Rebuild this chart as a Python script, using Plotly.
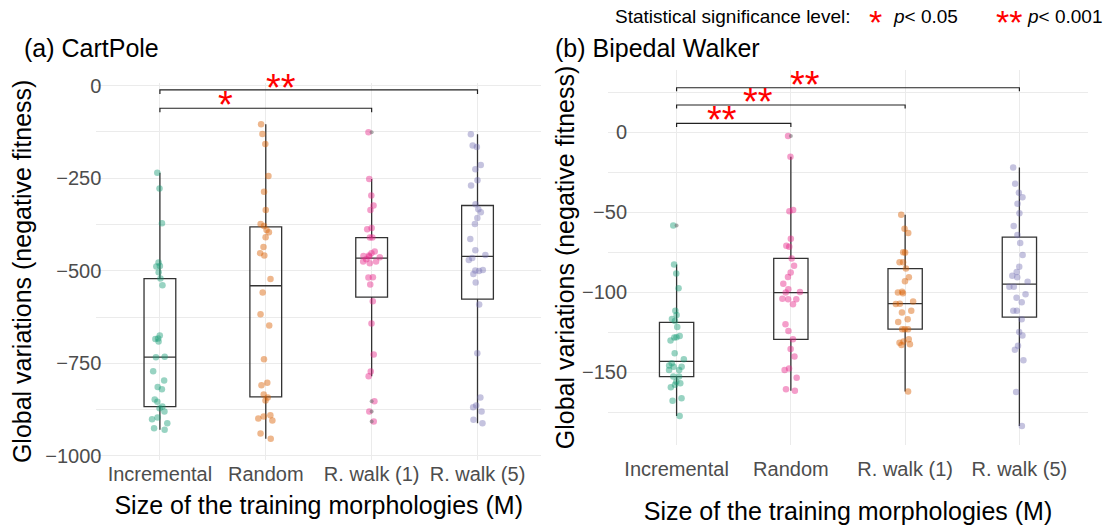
import numpy as np
import plotly.graph_objects as go

# ---------------- data ----------------
categories = ["Incremental", "Random", "R. walk (1)", "R. walk (5)"]

cartpole_incremental = [-234.9, -278.0, -371.6, -477.8, -486.8, -488.6, -503.8, -520.9, -539.0,
                        -674.9, -683.0, -683.9, -691.1, -732.4, -733.3, -771.0, -796.4, -813.5,
                        -819.7, -847.7, -853.9, -866.6, -871.0, -880.1, -896.3, -900.7, -911.5,
                        -925.0, -929.5]
cartpole_random = [-104.3, -130.4, -157.4, -243.8, -286.2, -335.6, -373.4, -378.8, -389.6, -395.8,
                   -409.3, -435.5, -452.5, -459.0, -521.9, -558.9, -617.2, -648.0, -738.7, -802.6,
                   -808.9, -834.2, -842.3, -850.4, -890.0, -893.6, -899.0, -904.4, -939.5, -953.8]
cartpole_rwalk1 = [-125.9, -251.9, -296.9, -323.9, -335.6, -384.2, -387.8, -410.3, -410.3, -448.1,
                   -452.5, -459.0, -459.8, -461.6, -463.3, -468.7, -475.2, -475.2, -479.5, -517.3,
                   -518.4, -537.3, -582.1, -642.5, -726.2, -772.1, -784.6, -852.0, -880.1, -907.1]
cartpole_rwalk5 = [-131.3, -161.9, -165.5, -214.1, -225.8, -255.5, -269.9, -320.3, -333.7, -341.9,
                   -357.2, -373.4, -413.9, -444.5, -457.2, -465.2, -470.6, -497.6, -499.5, -500.3,
                   -508.4, -531.8, -591.2, -722.5, -842.3, -863.9, -868.3, -880.1, -902.5, -911.5]

walker_incremental = [-58.3, -82.7, -88.2, -97.5, -111.5, -114.2, -116.7, -117.9, -121.7, -127.3,
                      -128.1, -128.3, -130.2, -138.1, -141.9, -144.4, -145.8, -146.5, -146.5, -148.6,
                      -148.6, -152.7, -152.7, -155.9, -156.9, -157.9, -159.4, -166.3, -167.9, -177.3]
walker_random = [-2.3, -15.2, -48.6, -49.4, -66.5, -70.9, -71.5, -78.8, -83.4, -87.7, -90.4, -94.6,
                 -98.1, -99.8, -100.2, -104.0, -104.4, -104.4, -107.5, -120.0, -124.2, -129.4,
                 -135.4, -140.2, -147.7, -148.6, -153.4, -160.6, -161.5]
walker_rwalk1 = [-51.5, -60.2, -62.9, -75.0, -75.2, -81.3, -81.3, -85.2, -90.6, -93.1, -99.6, -100.2,
                 -100.6, -105.8, -107.1, -107.3, -111.5, -112.7, -116.9, -118.6, -123.1, -123.1,
                 -123.1, -129.4, -130.8, -131.5, -132.5, -132.9, -162.1]
walker_rwalk5 = [-21.9, -32.1, -37.7, -40.6, -44.6, -50.6, -58.6, -64.2, -69.2, -76.7, -84.0, -87.3,
                 -89.6, -90.6, -93.4, -96.5, -96.5, -101.3, -103.4, -106.3, -111.5, -111.5, -116.9,
                 -124.8, -127.1, -133.4, -135.9, -142.5, -162.3, -183.6]

# significance comparisons: (from index, to index, bracket value, label)
cartpole_sig = [(0, 3, -11.6, "**"), (0, 2, -61.0, "*")]
walker_sig = [(0, 3, 27.9, "**"), (0, 2, 17.1, "**"), (0, 1, 5.6, "**")]

# ---------------- style ----------------
GREEN = "rgba(27,158,119,0.45)"
ORANGE = "rgba(217,95,2,0.45)"
PINK = "rgba(231,41,138,0.45)"
PURPLE = "rgba(117,112,179,0.42)"
FONT = "Liberation Sans, Arial, sans-serif"
GRID = "#EBEBEB"

fig = go.Figure()


def add_group(vals, cat, color, xa, ya):
    v = np.array(vals, dtype=float)
    q1, med, q3 = np.percentile(v, [25, 50, 75])
    iqr = q3 - q1
    lo_lim, hi_lim = q1 - 1.5 * iqr, q3 + 1.5 * iqr
    inside = v[(v >= lo_lim) & (v <= hi_lim)]
    outl = v[(v < lo_lim) | (v > hi_lim)]
    fig.add_trace(go.Box(
        x=[cat], q1=[q1], median=[med], q3=[q3],
        lowerfence=[inside.min()], upperfence=[inside.max()],
        width=0.3, whiskerwidth=0, fillcolor="rgba(0,0,0,0)",
        line=dict(color="#333333", width=1.3), boxpoints=False,
        xaxis=xa, yaxis=ya, showlegend=False, hoverinfo="skip"))
    if len(outl):
        fig.add_trace(go.Scatter(
            x=[cat] * len(outl), y=outl, mode="markers",
            marker=dict(color="rgba(110,110,110,0.55)", size=4),
            xaxis=xa, yaxis=ya, showlegend=False, hoverinfo="skip"))
    fig.add_trace(go.Box(
        x=[cat] * len(v), y=v, width=0.3, boxpoints="all", jitter=0.6, pointpos=0,
        fillcolor="rgba(0,0,0,0)", line=dict(color="rgba(0,0,0,0)", width=0),
        whiskerwidth=0, marker=dict(color=color, size=6.5, line=dict(width=0)),
        xaxis=xa, yaxis=ya, showlegend=False, hoverinfo="y"))


for vals, color, cat in zip([cartpole_incremental, cartpole_random, cartpole_rwalk1, cartpole_rwalk5],
                            [GREEN, ORANGE, PINK, PURPLE], categories):
    add_group(vals, cat, color, "x", "y")
for vals, color, cat in zip([walker_incremental, walker_random, walker_rwalk1, walker_rwalk5],
                            [GREEN, PINK, ORANGE, PURPLE], categories):
    add_group(vals, cat, color, "x2", "y2")


def add_brackets(sig, tip, xa, ya, star_pos):
    for (i0, i1, yv, lab), (sx, sy) in zip(sig, star_pos):
        fig.add_trace(go.Scatter(
            x=[categories[i0], categories[i0], categories[i1], categories[i1]],
            y=[yv - tip, yv, yv, yv - tip], mode="lines",
            line=dict(color="#222222", width=1.2), xaxis=xa, yaxis=ya,
            showlegend=False, hoverinfo="skip"))
        fig.add_annotation(x=sx, y=sy, xref=xa, yref=ya, text=lab, showarrow=False,
                           font=dict(color="#FF0000", size=38, family=FONT),
                           xanchor="center", yanchor="middle", yshift=-5)


add_brackets(cartpole_sig, 11, "x", "y", [(1.14, 6.5), (0.62, -38.6)])
add_brackets(walker_sig, 2.2, "x2", "y2", [(1.12, 32.7), (0.71, 22.0), (0.40, 10.8)])

axis_common = dict(showline=False, zeroline=False, gridcolor=GRID, gridwidth=1,
                   tickfont=dict(size=20, color="#4D4D4D", family=FONT))

fig.update_layout(
    width=1113, height=527,
    margin=dict(l=0, r=0, t=0, b=0),
    paper_bgcolor="white", plot_bgcolor="white",
    font=dict(family=FONT, color="black"),
    boxmode="overlay",
    xaxis=dict(domain=[0.0866, 0.4861], anchor="y", type="category",
               categoryorder="array", categoryarray=categories, range=[-0.6, 3.6],
               title=dict(text="Size of the training morphologies (M)", font=dict(size=25), standoff=12),
               automargin=False, **axis_common),
    yaxis=dict(domain=[0.1271, 0.8431], anchor="x", range=[-1011, 8], dtick=250, tick0=0,
               minor=dict(dtick=125, showgrid=True, gridcolor=GRID, gridwidth=1),
               ticklabelstandoff=-6,
               title=dict(text="Global variations (negative fitness)", font=dict(size=25), standoff=6),
               automargin=False, **axis_common),
    xaxis2=dict(domain=[0.5463, 0.9775], anchor="y2", type="category",
                categoryorder="array", categoryarray=categories, range=[-0.6, 3.6],
                ticklabelstandoff=10,
                title=dict(text="Size of the training morphologies (M)", font=dict(size=25), standoff=23),
                automargin=False, **axis_common),
    yaxis2=dict(domain=[0.1556, 0.8672], anchor="x2", range=[-195.5, 39], dtick=50, tick0=0,
                minor=dict(dtick=25, showgrid=True, gridcolor=GRID, gridwidth=1),
                ticklabelstandoff=-20,
                title=dict(text="Global variations (negative fitness)", font=dict(size=25), standoff=0),
                automargin=False, **axis_common),
)

# panel titles
fig.add_annotation(x=22 / 1113, y=1 - 48 / 527, xref="paper", yref="paper", text="(a) CartPole",
                   showarrow=False, xanchor="left", yanchor="middle", font=dict(size=25, family=FONT))
fig.add_annotation(x=553 / 1113, y=1 - 48 / 527, xref="paper", yref="paper", text="(b) Bipedal Walker",
                   showarrow=False, xanchor="left", yanchor="middle", font=dict(size=25, family=FONT))

# significance legend
legend_y = 1 - 16 / 527
fig.add_annotation(x=613 / 1113, y=legend_y, xref="paper", yref="paper",
                   text="Statistical significance level:", showarrow=False, xanchor="left",
                   yanchor="middle", font=dict(size=19, family=FONT))
fig.add_annotation(x=875 / 1113, y=legend_y, xref="paper", yref="paper", text="*", showarrow=False,
                   xanchor="center", yanchor="middle", yshift=-6, font=dict(size=34, color="#FF0000", family=FONT))
fig.add_annotation(x=891 / 1113, y=legend_y, xref="paper", yref="paper", text="<i>p</i>< 0.05",
                   showarrow=False, xanchor="left", yanchor="middle", font=dict(size=19, family=FONT))
fig.add_annotation(x=1009 / 1113, y=legend_y, xref="paper", yref="paper", text="**", showarrow=False,
                   xanchor="center", yanchor="middle", yshift=-6, font=dict(size=34, color="#FF0000", family=FONT))
fig.add_annotation(x=1025 / 1113, y=legend_y, xref="paper", yref="paper", text="<i>p</i>< 0.001",
                   showarrow=False, xanchor="left", yanchor="middle", font=dict(size=19, family=FONT))

fig.write_html("out.html", config={"displayModeBar": False},
               post_script="document.body.style.margin='0px';")
